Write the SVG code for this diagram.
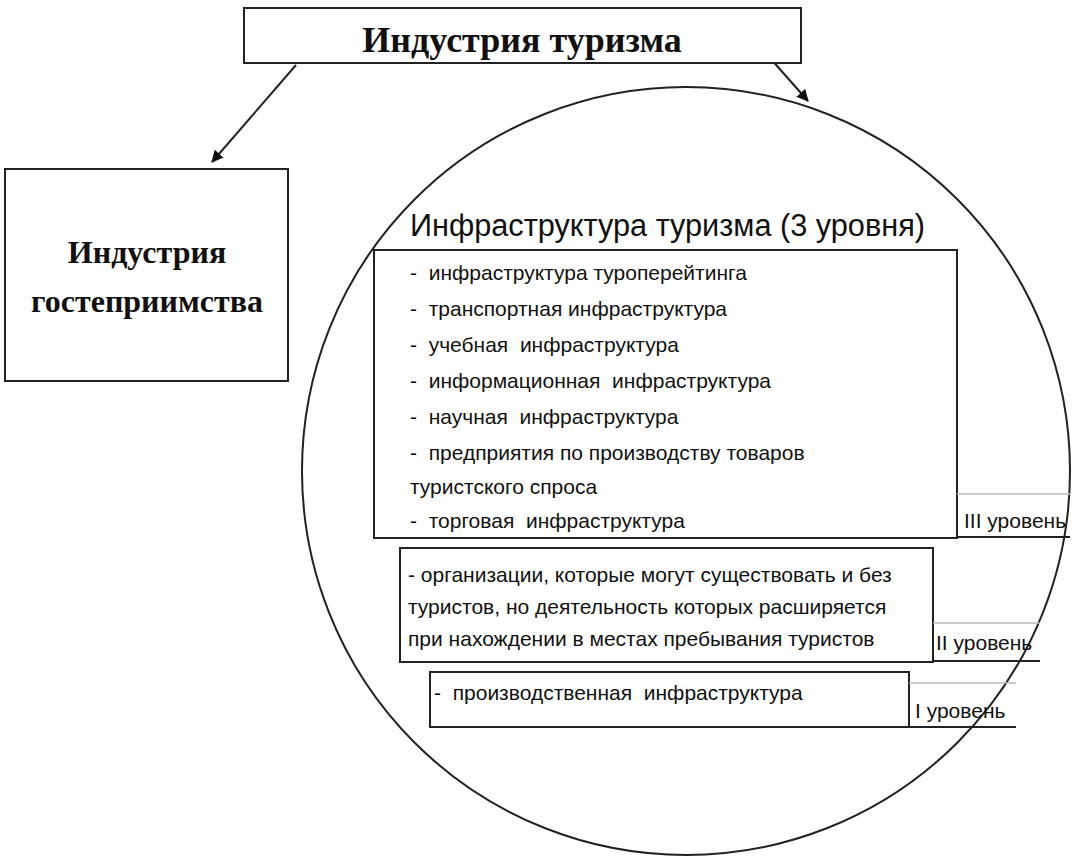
<svg xmlns="http://www.w3.org/2000/svg" width="1085" height="860" viewBox="0 0 1085 860">
<style>
text{white-space:pre}
.b{fill:#fff;stroke:#222;stroke-width:2}
.t{font-family:"Liberation Sans",Arial,sans-serif;font-size:21px;fill:#111}
.h{font-family:"Liberation Serif",serif;font-weight:bold;fill:#111}
.lv{font-family:"Liberation Sans",Arial,sans-serif;font-size:21px;fill:#111}
.c{stroke:#222;stroke-width:2;fill:none}
</style>
<defs><marker id="a" markerWidth="12" markerHeight="12" refX="11" refY="6" orient="auto" markerUnits="userSpaceOnUse"><path d="M0,0L12,6L0,12z" fill="#111"/></marker></defs>
<rect width="1085" height="860" fill="#fff"/>
<g id="connectors">
<line class="c" x1="296" y1="65" x2="212" y2="162" marker-end="url(#a)"/>
<line class="c" x1="770" y1="58" x2="808" y2="101" marker-end="url(#a)"/>
</g>
<g id="infra-circle"><circle cx="686" cy="471" r="384" fill="none" stroke="#222" stroke-width="2"/>
<text x="410" y="236" font-family="Liberation Sans,sans-serif" font-size="31" fill="#111" textLength="515" lengthAdjust="spacingAndGlyphs">Инфраструктура туризма (3 уровня)</text></g>
<g id="top"><rect class="b" x="244" y="8" width="557" height="55"/><text class="h" x="522" y="52" font-size="36" text-anchor="middle">Индустрия туризма</text></g>
<g id="hosp"><rect class="b" x="5" y="169" width="283" height="212"/><text class="h" x="147" y="263" font-size="32" text-anchor="middle">Индустрия</text><text class="h" x="147" y="312" font-size="32" text-anchor="middle">гостеприимства</text></g>
<g id="lvl3"><rect class="b" x="374" y="250" width="583" height="288"/>
<text class="t"><tspan x="410" y="280">-  инфраструктура туроперейтинга</tspan><tspan x="410" y="316">-  транспортная инфраструктура</tspan><tspan x="410" y="352">-  учебная  инфраструктура</tspan><tspan x="410" y="388">-  информационная  инфраструктура</tspan><tspan x="410" y="424">-  научная  инфраструктура</tspan><tspan x="410" y="460">-  предприятия по производству товаров</tspan><tspan x="410" y="494">туристского спроса</tspan><tspan x="410" y="528">-  торговая  инфраструктура</tspan></text></g>
<g id="lab3"><path d="M957,494H1070" stroke="#bbb" stroke-width="1.5"/><path d="M957,537H1070" stroke="#222" stroke-width="2"/><text class="lv" x="964" y="528">III уровень</text></g>
<g id="lvl2"><rect class="b" x="400" y="548" width="533" height="114"/>
<text class="t"><tspan x="408" y="582">- организации, которые могут существовать и без</tspan><tspan x="408" y="614">туристов, но деятельность которых расширяется</tspan><tspan x="408" y="646">при нахождении в местах пребывания туристов</tspan></text></g>
<g id="lab2"><path d="M933,623H1040" stroke="#bbb" stroke-width="1.5"/><path d="M933,661H1040" stroke="#222" stroke-width="2"/><text class="lv" x="936" y="650">II уровень</text></g>
<g id="lvl1"><rect class="b" x="430" y="672" width="479" height="55"/><text class="t" x="434" y="700">-  производственная  инфраструктура</text></g>
<g id="lab1"><path d="M909,683H1016" stroke="#bbb" stroke-width="1.5"/><path d="M909,727H1016" stroke="#222" stroke-width="2"/><text class="lv" x="915" y="718">I уровень</text></g>
</svg>
